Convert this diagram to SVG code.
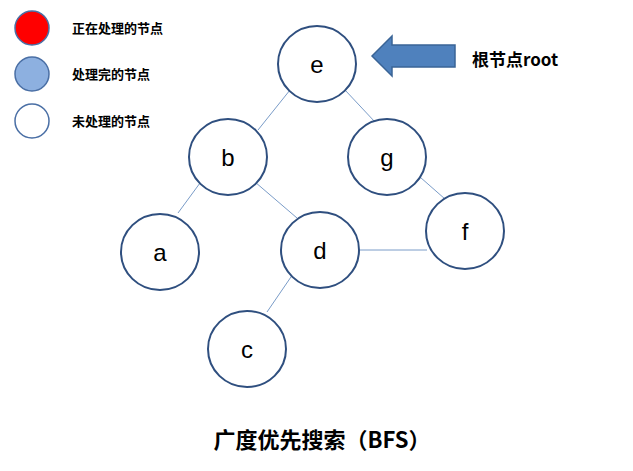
<svg xmlns="http://www.w3.org/2000/svg" width="633" height="471" viewBox="0 0 633 471">
<style>
.n{fill:#fff;stroke:#2f4f7f;stroke-width:2}
.l{font-family:"Liberation Sans",sans-serif;font-size:24px;fill:#000;text-anchor:middle}
.t{font-family:"Noto Sans CJK SC",sans-serif;font-size:13px;font-weight:bold;fill:#000}
#edges line{stroke:#7a9cc8;stroke-width:1}
</style>
<rect width="633" height="471" fill="#fff"/>
<g id="legend">
<ellipse cx="32" cy="28" rx="17" ry="17" fill="#ff0000" stroke="#4a6fa5" stroke-width="1.5"/>
<ellipse cx="32" cy="74" rx="17" ry="17" fill="#8db0e0" stroke="#4a6fa5" stroke-width="1.5"/>
<ellipse cx="32" cy="121" rx="17" ry="17" fill="#fff" stroke="#4a6fa5" stroke-width="1.5"/>
<text class="t" x="72" y="33">正在处理的节点</text>
<text class="t" x="72" y="79">处理完的节点</text>
<text class="t" x="72" y="126">未处理的节点</text>
</g>
<g id="edges">
<line x1="290" y1="90" x2="258" y2="130"/>
<line x1="345" y1="90" x2="375" y2="122"/>
<line x1="200" y1="183" x2="178" y2="213"/>
<line x1="255" y1="182" x2="297" y2="218"/>
<line x1="412" y1="170" x2="445" y2="199"/>
<line x1="360" y1="250" x2="427" y2="250"/>
<line x1="293" y1="274" x2="267" y2="312"/>
</g>
<g id="e"><ellipse class="n" cx="317" cy="64" rx="39" ry="38"/><text class="l" x="317" y="73">e</text></g>
<g id="b"><ellipse class="n" cx="228" cy="157" rx="39" ry="38"/><text class="l" x="228" y="166">b</text></g>
<g id="g"><ellipse class="n" cx="387" cy="157" rx="39" ry="38"/><text class="l" x="387" y="166">g</text></g>
<g id="a"><ellipse class="n" cx="160" cy="252" rx="39" ry="38"/><text class="l" x="160" y="261">a</text></g>
<g id="d"><ellipse class="n" cx="320" cy="250" rx="39" ry="38"/><text class="l" x="320" y="259">d</text></g>
<g id="f"><ellipse class="n" cx="465" cy="231" rx="39" ry="38"/><text class="l" x="465" y="240">f</text></g>
<g id="c"><ellipse class="n" cx="247" cy="349" rx="39" ry="38"/><text class="l" x="247" y="358">c</text></g>
<g id="root">
<polygon points="372,56 392,36 392,45 455,45 455,67 392,67 392,76" fill="#4f81bd" stroke="#3a6496" stroke-width="1.5"/>
<text x="472" y="66" font-family="Noto Sans CJK SC,sans-serif" font-size="17" font-weight="bold">根节点root</text>
</g>
<text x="322" y="448" text-anchor="middle" font-family="Noto Sans CJK SC,sans-serif" font-size="22" font-weight="bold">广度优先搜索（BFS）</text>
</svg>
